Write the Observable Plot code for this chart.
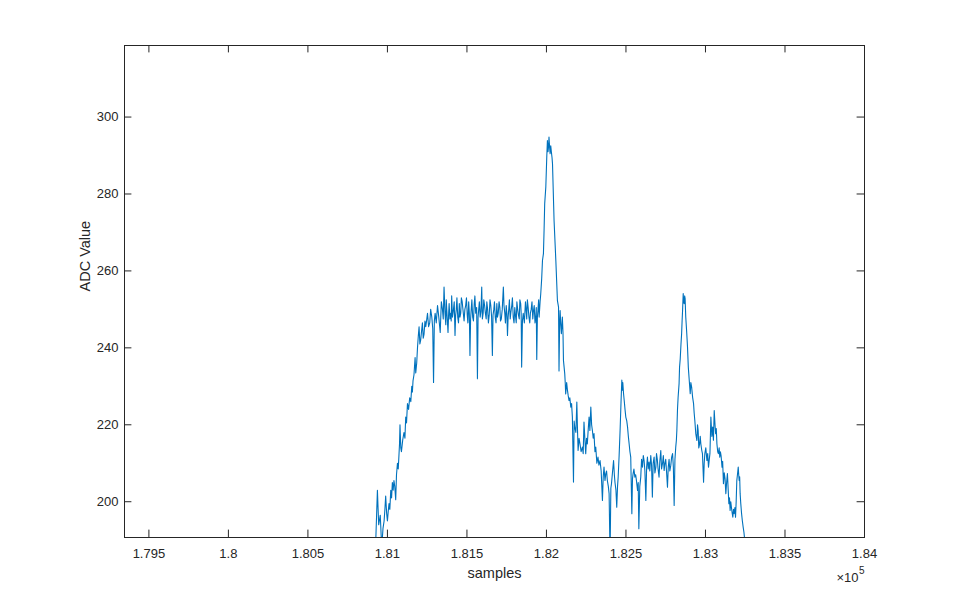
<!DOCTYPE html>
<html>
<head>
<meta charset="utf-8">
<script src="https://cdn.jsdelivr.net/npm/d3@7"></script>
<script src="https://cdn.jsdelivr.net/npm/@observablehq/plot@0.6"></script>
<style>
  html, body { margin: 0; padding: 0; background: #ffffff; }
  #chart { width: 956px; height: 604px; }
</style>
</head>
<body>
<div id="chart"></div>
<script>
// ---- data: [sample, ADC value] ----
const leadIn = [
  [180700,180],[180820,186],[180832,190.5],[180840,185],[180895,185],[180926,189],[180937,203],
  [180945,194],[180955,196.5],[180964,188],[180972,193]
];
const rise = [
  [180979,195],[180984,198],[180989,201.5],[180995,197],[181000,195],[181005,197.5],[181010,199.5],
  [181015,198],[181021,203],[181026,201],[181031,205],[181036,203],[181041,205.5],[181046,204],
  [181052,200.5],[181057,207],[181063,210],[181068,208.5],[181073,212.5],[181076,215],[181079,220],
  [181084,214],[181088,213],[181096,216],[181104,218],[181110,216.5],[181115,222],[181120,220.5],
  [181126,225.5],[181133,224],[181140,227],[181147,226],[181153,230],[181157,228.5],[181161,231.5],
  [181167,233],[181174,237.5],[181178,233.5],[181184,236],[181189,240],[181194,243],[181199,245.5],
  [181204,241],[181209,242],[181215,244.5],[181220,246.5],[181225,242.5],[181230,243.5],[181236,247],
  [181241,245.5],[181246,247],[181252,249],[181259,245.5],[181266,246.5],[181272,250],[181279,248],
  [181285,245],[181290,231],[181295,247]
];
const plateau = [
  [181300,249],[181307,246.5],[181315,251],[181323,248],[181332,244],[181339,252],[181346,250],
  [181351,247.5],[181356,255.8],[181362,249],[181367,246],[181370,252.5],[181373,250],[181377,247],
  [181381,244],[181385,249],[181388,251.5],[181393,247.5],[181398,249],[181401,247],[181404,253.5],
  [181409,248],[181414,249.5],[181420,252],[181425,243.2],[181429,248.5],[181433,250],[181437,253],
  [181442,248],[181447,246.5],[181452,251.5],[181456,248],[181461,249],[181465,253],[181470,252],
  [181476,249.5],[181482,247],[181487,250],[181492,251],[181497,253],[181502,248.5],[181506,246.5],
  [181511,252],[181515,249],[181519,238],[181523,247.5],[181527,250],[181531,252.5],[181536,248],
  [181541,247],[181546,251.5],[181550,253.5],[181555,249],[181561,250.5],[181566,232],[181570,248],
  [181574,250],[181578,252],[181583,248],[181588,249.5],[181593,255.8],[181597,247.5],[181602,249],
  [181606,252.5],[181611,251],[181616,249],[181621,247.5],[181625,252],[181630,250],[181635,246.5],
  [181640,248.5],[181645,252.5],[181650,251],[181655,248],[181660,238],[181664,248.5],[181669,250],
  [181673,252],[181678,248],[181683,246.5],[181688,251.5],[181692,248],[181697,249],[181702,252],
  [181707,250.5],[181711,247],[181716,247.5],[181722,250],[181729,255.8],[181733,251],[181738,249],
  [181742,246.5],[181747,251],[181751,249],[181755,243.2],[181759,248],[181763,250],[181767,252.5],
  [181772,247.5],[181777,249.5],[181782,251],[181786,253],[181791,248],[181796,246.5],[181801,250.5],
  [181805,248.5],[181810,246.5],[181814,252],[181819,250],[181824,248.5],[181829,247.5],[181833,252.5],
  [181838,251.5],[181841,249],[181844,235],[181849,247],[181854,249],[181861,246.5],[181868,252],
  [181872,250],[181876,247.5],[181880,252.5],[181885,250.5],[181890,248],[181895,246.5],[181899,249],
  [181904,250],[181909,252],[181914,247.5],[181918,249.5],[181923,251],[181928,246.5],[181933,248],
  [181936,250.5],[181939,237],[181943,248],[181947,250],[181951,252.5],[181954,248],[181957,250],
  [181960,252]
];
const mainPeak = [
  [181964,254],[181970,258],[181975,262.7],[181981,264.5],[181985,270.5],[181989,277.5],[181996,281.8],
  [182002,289.6],[182006,293.9],[182010,291],[182013,292.2],[182016,294.8],[182020,292],[182023,290.5],
  [182027,292.5],[182031,290.9],[182035,289.5],[182038,287.9],[182048,273],[182059,262.7],[182069,252.3],
  [182076,250.6],[182079,234],[182083,247],[182086,249.7],[182090,246]
];
const descent = [
  [182094,243.7],[182097,246],[182100,248],[182104,244],[182107,236.7],[182111,235],[182115,233.3],
  [182118,231],[182121,228],[182127,231],[182132,229],[182137,227.5],[182142,226.3],[182147,227],
  [182153,224.6],[182158,225.5],[182163,222],[182170,205.1],[182174,221],[182178,219.4],[182185,218],
  [182191,225.9],[182195,219],[182199,213.3],[182205,216.5],[182211,215],[182218,213],[182226,214.2],
  [182231,212.5],[182236,220.7],[182242,216],[182247,212.5],[182252,216.5],[182257,215],[182263,219],
  [182268,222],[182273,218.5],[182279,224.6],[182284,220],[182289,218.5],[182294,216.5],[182299,217.7],
  [182305,213],[182310,214.2],[182317,210],[182324,211.6],[182330,209.5],[182337,210.7],[182344,208],
  [182352,200.3],[182357,206.5],[182362,209],[182368,205.5],[182373,207.3],[182378,208],[182383,205.5],
  [182389,204],[182394,202.1],[182400,186],[182405,203.5],[182409,204.7],[182416,208],[182422,210.7],
  [182427,207],[182431,205],[182437,203],[182442,198.6],[182447,204],[182451,206.4]
];
const smallPeak = [
  [182457,212],[182463,218.5],[182469,226],[182474,231.6],[182477,229],[182480,231],[182485,228],
  [182489,226.3],[182494,224],[182499,222],[182505,221],[182510,219.4],[182515,217],[182520,215],
  [182525,213],[182530,211.6],[182537,196.9],[182541,206],[182545,207.3],[182550,208.5],[182556,206.4],
  [182561,207],[182566,205.5],[182573,202.9],[182577,205],[182581,193]
];
const secondPlateau = [
  [182587,204],[182593,206.4],[182598,211],[182604,209],[182609,212],[182614,210.7],[182619,208],
  [182625,200.3],[182630,209],[182635,211.6],[182640,208.5],[182645,210.3],[182650,208],[182656,212],
  [182661,209.5],[182666,201.2],[182671,210],[182677,211.6],[182682,207.5],[182688,209],[182692,212.5],
  [182697,211],[182702,208.5],[182708,206.4],[182713,210.5],[182719,213.3],[182724,208.5],[182730,210],
  [182735,212],[182740,208.1],[182745,210],[182750,211],[182755,208],[182761,203.8],[182766,209],
  [182771,211],[182776,208],[182782,209.5],[182787,211.5],[182793,212.5],[182798,209],[182803,199],
  [182808,211],[182813,214.2]
];
const secondPeak = [
  [182817,216],[182820,218.5],[182824,224],[182828,227.2],[182834,230.7],[182837,235],[182841,237],
  [182846,241],[182850,243.7],[182853,247],[182856,249.7],[182858,252],[182860,254.1],[182863,252],
  [182866,251.5],[182869,253.5],[182872,252.8],[182876,248],[182882,244],[182887,240.2],[182892,235],
  [182898,231.5]
];
const tail = [
  [182904,228.1],[182908,231],[182913,229.8],[182919,227.2],[182925,225.5],[182929,223],[182933,221.1],
  [182939,217.7],[182946,215.9],[182950,220],[182954,218.5],[182958,214],[182963,215],[182967,217],
  [182971,215],[182976,213.5],[182981,212.5],[182988,205.1],[182992,210],[182996,212.5],[183002,214],
  [183009,210.7],[183014,212.5],[183019,209],[183024,211],[183028,212.5],[183034,222],[183040,217],
  [183045,219.4],[183050,216],[183055,223.7],[183060,220],[183064,217.7],[183068,219],[183072,215],
  [183077,213],[183081,212.5],[183086,214],[183090,211.6],[183094,213],[183098,212],[183104,209],
  [183108,210.5],[183113,204.7],[183118,207.5],[183123,206],[183128,202.1],[183133,205],[183138,207.3],
  [183143,203],[183147,199.5],[183151,201],[183155,197.7],[183159,200],[183163,198.6],[183168,197],
  [183172,196],[183176,198],[183180,196.9],[183185,198.5],[183189,196],[183193,200],[183197,205.5],
  [183201,207],[183206,209],[183209,207],[183212,205.5],[183215,206.5],[183218,202.1],[183222,199.5],
  [183227,196.9],[183232,195],[183237,193.4],[183242,192],[183248,189.5],[183260,185],[183400,180]
];
const xTicks = [179500, 180000, 180500, 181000, 181500, 182000, 182500, 183000, 183500, 184000];
const xTickLabels = ["1.795", "1.8", "1.805", "1.81", "1.815", "1.82", "1.825", "1.83", "1.835", "1.84"];
const yTicks = [200, 220, 240, 260, 280, 300];
const xDomain = [179346.6, 184000];
const yDomain = [190.7, 318.6];

// ---- build ----
const data = [...leadIn, ...rise, ...plateau, ...mainPeak, ...descent, ...smallPeak,
              ...secondPlateau, ...secondPeak, ...tail].map(([s, v]) => ({s, v}));
const W = 956, H = 604, mL = 124, mR = 92, mT = 45, mB = 67;
const innerW = W - mL - mR, innerH = H - mT - mB;
const tickLen = 7.4;
const axisColor = "#262626";
const font = "'Liberation Sans', Arial, Helvetica, sans-serif";

const chart = Plot.plot({
  width: W, height: H,
  marginLeft: mL, marginRight: mR, marginTop: mT, marginBottom: mB,
  style: {fontFamily: font, fontSize: "13px", color: axisColor, background: "#ffffff", overflow: "visible"},
  x: {domain: xDomain},
  y: {domain: yDomain},
  marks: [
    Plot.line(data, {x: "s", y: "v", stroke: "#0072BD", strokeWidth: 1.1, clip: true}),
    Plot.frame({stroke: axisColor, strokeWidth: 1}),
    Plot.ruleX(xTicks, {insetTop: innerH - tickLen, stroke: axisColor}),
    Plot.ruleX(xTicks, {insetBottom: innerH - tickLen, stroke: axisColor}),
    Plot.ruleY(yTicks, {insetRight: innerW - tickLen, stroke: axisColor}),
    Plot.ruleY(yTicks, {insetLeft: innerW - tickLen, stroke: axisColor}),
    Plot.axisX({ticks: xTicks, tickSize: 0, tickPadding: 11, label: null,
      tickFormat: d => xTickLabels[xTicks.indexOf(d)], fontSize: 13, fill: axisColor}),
    Plot.axisY({ticks: yTicks, tickSize: 0, tickPadding: 6, label: null,
      tickFormat: d => String(d), fontSize: 13, fill: axisColor}),
    Plot.text(["samples"], {text: d => d, frameAnchor: "bottom", dy: 36, fontSize: 14.5, fill: axisColor, lineAnchor: "middle"}),
    Plot.text(["ADC Value"], {text: d => d, frameAnchor: "left", dx: -39, rotate: -90, fontSize: 14.5, fill: axisColor, lineAnchor: "middle"}),
    Plot.text(["\u00d710"], {text: d => d, frameAnchor: "bottom-right", textAnchor: "end", dx: -6, dy: 40, fontSize: 13, fill: axisColor, lineAnchor: "middle"}),
    Plot.text(["5"], {text: d => d, frameAnchor: "bottom-right", textAnchor: "start", dx: -5.5, dy: 33, fontSize: 10, fill: axisColor, lineAnchor: "middle"})
  ]
});
document.getElementById("chart").appendChild(chart);
</script>
</body>
</html>
